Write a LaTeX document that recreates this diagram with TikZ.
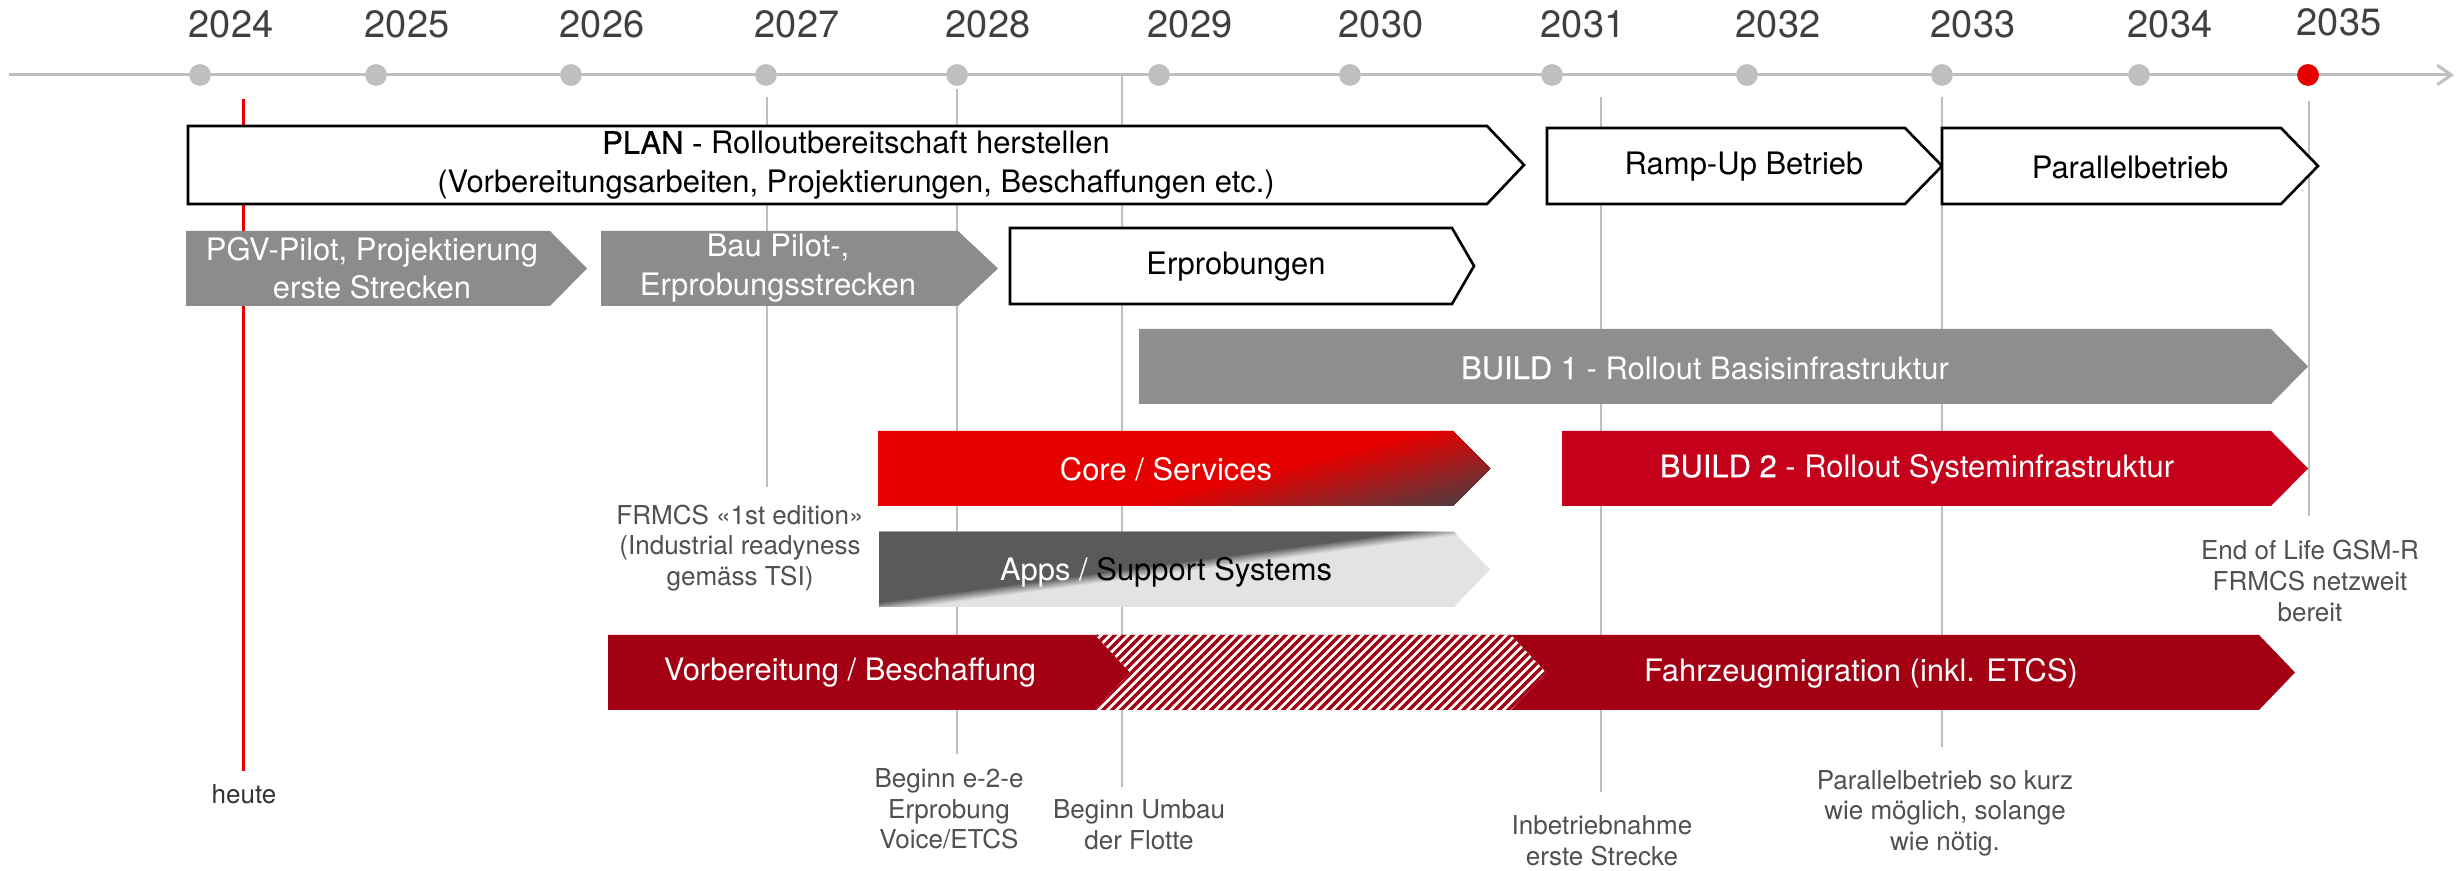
\documentclass[tikz,border=0pt]{standalone}
\usepackage{fontspec}
\setmainfont{TeX Gyre Heros}
\newfontfamily\medfont{TeX Gyre Heros}[FakeBold=0.6]
\usetikzlibrary{calc,arrows.meta}

\definecolor{axisgray}{HTML}{BFBFBF}
\definecolor{yeartext}{HTML}{404040}
\definecolor{notetext}{HTML}{505050}
\definecolor{todayred}{HTML}{E60000}
\definecolor{stepgray}{HTML}{8C8C8C}
\definecolor{buildgray}{HTML}{8E8E8E}
\definecolor{buildred}{HTML}{C4001A}
\definecolor{coreRed}{HTML}{E60000}
\definecolor{coreDark}{HTML}{553A3C}
\definecolor{appsDark}{HTML}{5A5A5A}
\definecolor{appsLight}{HTML}{E3E3E3}
\definecolor{fleetred}{HTML}{A30014}

% chevron bar: [style]{left}{top}{body right}{tip}{bottom}
\newcommand\chevshape[6][]{%
  \path[#1] (#2,#3) -- (#4,#3) -- (#5,{(#3+#6)/2}) -- (#4,#6) -- (#2,#6) -- cycle;}

\tikzset{
  yearlabel/.style={font=\fontsize{10.8}{13}\selectfont, text=yeartext},
  boxtext/.style={font=\fontsize{8.8}{10.9}\selectfont, align=center, inner sep=0pt},
  note/.style={font=\fontsize{7.4}{8.7}\selectfont, text=notetext, align=center, inner sep=0pt},
  guide/.style={draw=axisgray, line width=0.6pt},
  outlined/.style={draw=black, line width=0.75pt, fill=white, line join=miter},
}

\begin{document}
\begin{tikzpicture}[x=0.01cm, y=-0.01cm]
\useasboundingbox (0,0) rectangle (2463,871);
\fill[white] (0,0) rectangle (2463,871);

% vertical guide lines
\draw[guide] (767,97) -- (767,487);
\draw[guide] (957,89) -- (957,754);
\draw[guide] (1122,76) -- (1122,787);
\draw[guide] (1601,97) -- (1601,792);
\draw[guide] (1942,97) -- (1942,747);
\draw[guide] (2309,101) -- (2309,516);
\draw[todayred, line width=0.6pt] (243.5,99) -- (243.5,771);

% time axis
\coordinate (axisstart) at (9,75);
\coordinate (axisend) at (2454,75);
\draw[axisgray, line width=0.85pt, -{Straight Barb[length=4pt,width=5.5pt]}] (axisstart) -- (axisend);
\foreach \xx/\yr in {200/2024,376/2025,571/2026,766/2027,957/2028,1159/2029,1350/2030,1552/2031,1747/2032,1942/2033,2139/2034} {
  \fill[axisgray] (\xx,75) circle[radius=3.1pt];
  \node[yearlabel] (y\yr) at (\xx+31,24) {\yr};
}
\fill[todayred] (2308,75) circle[radius=3.1pt];
\node[yearlabel] (y2035) at (2339,22) {2035};

% planning row
\chevshape[outlined]{188}{126}{1487}{1524}{204}
\chevshape[outlined]{1547}{128}{1905}{1942}{204}
\chevshape[outlined]{1942}{128}{2281}{2318}{204}

% pilot row
\chevshape[fill=stepgray]{186}{231}{550}{587}{306}
\chevshape[fill=stepgray]{601}{231}{958}{998}{306}
\chevshape[outlined]{1010}{228}{1452}{1474}{304}

% build rows
\chevshape[fill=buildgray]{1139}{329}{2271}{2308}{404}
\chevshape[fill=buildred]{1562}{431}{2271}{2308}{506}

% core / services with darkening towards the lower right
\begin{scope}
  \clip (878,431) -- (1453,431) -- (1490,468.5) -- (1453,506) -- (878,506) -- cycle;
  \fill[coreRed] (870,420) rectangle (1500,520);
  \coordinate (cn) at (0.2426,0.9701);
  \coordinate (cd) at (0.9701,-0.2426);
  \coordinate (c0) at (1140,506);
  \foreach \i in {1,...,24} {
    \pgfmathsetmacro\off{(\i-1)*76/24}
    \pgfmathsetmacro\mix{\i*100/24}
    \fill[coreDark!\mix!coreRed]
      ($(c0)+\off*(cn)-1000*(cd)$) -- ($(c0)+\off*(cn)+1000*(cd)$) --
      ($(c0)+\off*(cn)+1000*(cd)+1000*(cn)$) -- ($(c0)+\off*(cn)-1000*(cd)+1000*(cn)$) -- cycle;
  }
\end{scope}

% apps / support systems, split diagonally dark / light
\begin{scope}
  \clip (879,532) -- (1454,532) -- (1490,569.5) -- (1454,607) -- (879,607) -- cycle;
  \fill[appsLight] (870,520) rectangle (1500,620);
  \coordinate (an) at (-0.1325,-0.9912);
  \coordinate (ad) at (0.9912,-0.1325);
  \coordinate (a0) at (879,607);
  \foreach \i in {1,...,10} {
    \pgfmathsetmacro\off{-5+(\i-1)}
    \pgfmathsetmacro\mix{\i*10}
    \fill[appsDark!\mix!appsLight]
      ($(a0)+\off*(an)-1000*(ad)$) -- ($(a0)+\off*(an)+1000*(ad)$) --
      ($(a0)+\off*(an)+1000*(ad)+1000*(an)$) -- ($(a0)+\off*(an)-1000*(ad)+1000*(an)$) -- cycle;
  }
\end{scope}

% fleet row with hatched transition
\chevshape[fill=fleetred]{608}{635}{2259}{2295}{710}
\begin{scope}
  \clip (1095,635) -- (1511,635) -- (1546,672.5) -- (1511,710) -- (1095,710) -- (1130,672.5) -- cycle;
  \fill[white] (1090,630) rectangle (1550,715);
  \foreach \k in {0,...,62} {
    \draw[fleetred, line width=0.95pt] ({1000+\k*9},714) -- ({1000+\k*9+82},632);
  }
\end{scope}

% bar captions
\node[boxtext] (plan) at (856,165) {{\medfont PLAN -} Rolloutbereitschaft herstellen\\(Vorbereitungsarbeiten, Projektierungen, Beschaffungen etc.)};
\node[boxtext] (rampup) at (1744,167) {Ramp-Up Betrieb};
\node[boxtext] (parallel) at (2130,167) {Parallelbetrieb};
\node[boxtext, text=white] (pgv) at (372,268) {PGV-Pilot, Projektierung\\erste Strecken};
\node[boxtext, text=white] (baupilot) at (778,268) {Bau Pilot-,\\Erprobungsstrecken};
\node[boxtext] (erprobungen) at (1236,267) {Erprobungen};
\node[boxtext, text=white] (build1) at (1705,368) {{\medfont BUILD 1} - Rollout Basisinfrastruktur};
\node[boxtext, text=white] (build2) at (1917,469) {{\medfont BUILD 2} - Rollout Systeminfrastruktur};
\node[boxtext, text=white] (core) at (1166,469) {Core / Services};
\node[boxtext, text=black] (apps) at (1166,572) {{\color{white}Apps /} Support Systems};
\node[boxtext, text=white] (vorb) at (850,673) {Vorbereitung / Beschaffung};
\node[boxtext, text=white] (fahrzeug) at (1861,673) {Fahrzeugmigration (inkl. ETCS)};

% milestone notes
\node[note] (frmcs) at (740,548) {FRMCS «1st edition»\\(Industrial readyness\\gemäss TSI)};
\node[note] (eol) at (2310,581) {End of Life GSM-R\\FRMCS netzweit\\bereit};
\node[note, text=black!80] (heute) at (244,794) {heute};
\node[note] (e2e) at (949,809) {Beginn e-2-e\\Erprobung\\Voice/ETCS};
\node[note] (umbau) at (1139,825) {Beginn Umbau\\der Flotte};
\node[note] (inbetrieb) at (1602,841) {Inbetriebnahme\\erste Strecke};
\node[note] (kurz) at (1945,813) {Parallelbetrieb so kurz\\wie möglich, solange\\wie nötig.};
\end{tikzpicture}
\end{document}
